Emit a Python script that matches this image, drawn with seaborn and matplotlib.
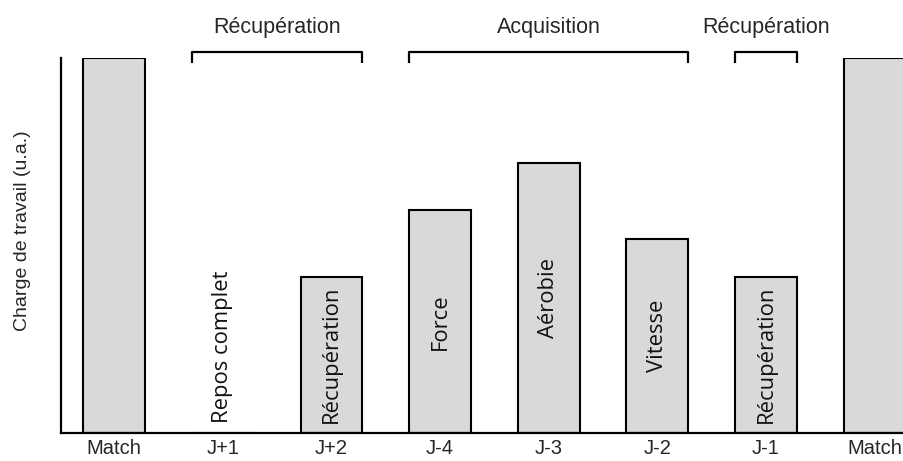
import seaborn as sns
import matplotlib.pyplot as plt
import pandas as pd

# Microcycle between two matches
days = ['Match', 'J+1', 'J+2', 'J-4', 'J-3', 'J-2', 'J-1', 'Match']
loads = [100, 0, 41.7, 59.5, 72.1, 51.7, 41.7, 100]
contents = ['', 'Repos complet', 'Récupération', 'Force', 'Aérobie', 'Vitesse', 'Récupération', '']

# Phases drawn as brackets above the bars (first / last day index)
phases = ['Récupération', 'Acquisition', 'Récupération']
phase_first = [1, 3, 6]
phase_last = [2, 5, 6]

df = pd.DataFrame({'pos': range(len(days)), 'load': loads})

sns.set_style('white')
plt.rcParams['font.family'] = ['Liberation Sans', 'DejaVu Sans']

fig = plt.figure(figsize=(9.04, 4.61), dpi=100)
ax = fig.add_axes([61 / 904, 1 - 432.5 / 461, (904 - 61) / 904, (432.5 - 58.5) / 461])

bar_w = 0.57
sns.barplot(data=df, x='pos', y='load', ax=ax, color='#d9d9d9', width=bar_w,
            edgecolor='black', linewidth=1.5, saturation=1)

ax.set_xlim(-0.49, 7.27)
ax.set_ylim(0, 100)
ax.set_xticks(range(len(days)))
ax.set_xticklabels(days, fontsize=14.5)
ax.set_yticks([])
ax.tick_params(axis='x', length=0, pad=4.5)
ax.set_xlabel('')
ax.set_ylabel('Charge de travail (u.a.)', fontsize=14)
ax.yaxis.set_label_coords(-0.035, 0.539)

for side in ['top', 'right']:
    ax.spines[side].set_visible(False)
for side in ['left', 'bottom']:
    ax.spines[side].set_linewidth(1.6)
    ax.spines[side].set_color('black')

# Session content written inside each bar
for i, (h, txt) in enumerate(zip(loads, contents)):
    if not txt:
        continue
    y = h / 2 if h > 0 else 23
    ax.text(i, y, txt, rotation=90, ha='center', va='center', fontsize=15.8,
            family=['Open Sans', 'DejaVu Sans'], color='#111111')

# Phase brackets
half = bar_w / 2
for name, a, b in zip(phases, phase_first, phase_last):
    x0, x1 = a - half, b + half
    ax.plot([x0, x0, x1, x1], [98.8, 101.7, 101.7, 98.8], color='black', lw=1.6,
            clip_on=False, solid_joinstyle='round', solid_capstyle='butt')
    ax.text((x0 + x1) / 2, 108.2, name, ha='center', va='center', fontsize=15.5)

plt.savefig('out.png', dpi=100)
